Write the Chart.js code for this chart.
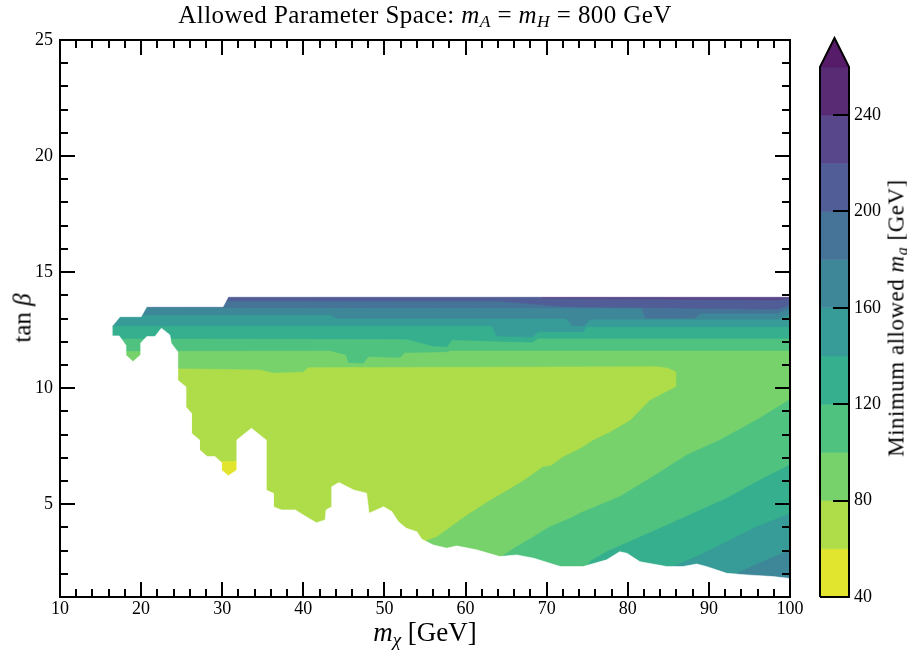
<!DOCTYPE html>
<html>
<head>
<meta charset="utf-8">
<script src="https://cdn.jsdelivr.net/npm/chart.js@4.4.0/dist/chart.umd.min.js"></script>
<style>
  html, body { margin: 0; padding: 0; background: #fff; }
  #fig { position: relative; width: 907px; height: 650px; font-family: 'Liberation Serif', serif; color: #000; }
  #mainBox { position: absolute; left: 0; top: 0; width: 907px; height: 650px; }
  #barBox { position: absolute; left: 800px; top: 0; width: 107px; height: 650px; }
  .lbl { position: absolute; white-space: nowrap; line-height: 1; }
  .lbl sub { font-size: 70%; vertical-align: -0.25em; line-height: 0; }
  #title { left: 425px; top: 2px; transform: translateX(-50%); font-size: 25px; letter-spacing: 0.4px; }
  #xlabel { left: 425px; top: 619px; transform: translateX(-50%); font-size: 27px; }
  #ylabel { left: 22px; top: 318px; transform: translate(-50%, -50%) rotate(-90deg); font-size: 25px; }
  #clabel { left: 896px; top: 318px; transform: translate(-50%, -50%) rotate(-90deg); font-size: 23px; letter-spacing: 0.5px; }
</style>
</head>
<body>
<div id="fig">
  <div id="mainBox"><canvas id="mainChart"></canvas></div>
  <div id="barBox"><canvas id="barChart"></canvas></div>
  <div class="lbl" id="title">Allowed Parameter Space: <i>m</i><sub><i>A</i></sub> = <i>m</i><sub><i>H</i></sub> = 800 GeV</div>
  <div class="lbl" id="xlabel"><i>m</i><sub><i>χ</i></sub> [GeV]</div>
  <div class="lbl" id="ylabel">tan <i>β</i></div>
  <div class="lbl" id="clabel">Minimum allowed <i>m</i><sub><i>a</i></sub> [GeV]</div>
</div>
<script>
// colour levels of m_a (GeV) and their fills
const levels = [40, 60, 80, 100, 120, 140, 160, 180, 200, 220, 240, 260];
const levelColors = ['#e2e52e', '#afdd49', '#78d26c', '#4fc280', '#36af8f', '#379c98',
  '#3e8799', '#467499', '#515d96', '#58478b', '#592b74'];
const overColor = '#561b69';
const colorTicks = [40, 80, 120, 160, 200, 240];

// outline of the allowed region (m_chi, tan beta)
const topEdge = [[16.4, 12.65], [17.4, 13.08], [20.0, 13.08], [20.7, 13.51], [30.1, 13.51],
  [30.75, 13.94], [100, 13.94]];
const bottomEdge = [[16.4, 12.25], [17.3, 12.25], [18.1, 11.86], [18.1, 11.43], [19.0, 11.14],
  [19.95, 11.43], [19.95, 11.94], [20.7, 12.22], [21.7, 12.22], [22.5, 12.58], [23.55, 12.29],
  [23.7, 11.94], [24.5, 11.57], [24.5, 10.35], [25.5, 10.06], [25.5, 9.2], [26.2, 8.92],
  [26.2, 8.06], [27.2, 7.77], [27.2, 7.34], [28.15, 7.05], [29.1, 7.05], [29.9, 6.79],
  [29.9, 6.47], [30.75, 6.22], [31.8, 6.47], [31.8, 7.77], [33.6, 8.27], [35.4, 7.77],
  [35.4, 5.61], [36.3, 5.47], [36.3, 4.89], [37.3, 4.75], [39.0, 4.75], [40.0, 4.53],
  [41.6, 4.2], [42.7, 4.32], [42.8, 4.75], [43.5, 4.89], [43.5, 5.75], [44.4, 5.93],
  [46.2, 5.61], [47.8, 5.47], [48.1, 4.61], [49.0, 4.75], [49.9, 4.89], [50.9, 4.68],
  [51.7, 4.25], [52.7, 3.96], [54.0, 3.81], [54.6, 3.49], [56.0, 3.24], [57.7, 3.1],
  [58.9, 3.2], [61.4, 3.03], [64.2, 2.74], [66.3, 2.81], [68.4, 2.67], [70.4, 2.45],
  [71.7, 2.31], [74.5, 2.31], [77.4, 2.6], [79.0, 2.95], [79.9, 2.88], [81.5, 2.52],
  [84.8, 2.31], [86.8, 2.31], [88.5, 2.42], [89.7, 2.31], [92.2, 2.02], [94.7, 1.95],
  [97.9, 1.88], [100, 1.8]];

// region below 80 GeV and the small patch below 60 GeV
const below80 = [[10, 10.9], [34.7, 10.78], [36.3, 10.64], [40.0, 10.68], [40.6, 10.88],
  [83.6, 10.92], [85.0, 10.85], [85.9, 10.7], [85.9, 10.07], [82.7, 9.49], [80.3, 8.63],
  [77.8, 8.12], [75.7, 7.77], [74.1, 7.41], [72.0, 7.05], [70.6, 6.69], [69.5, 6.62],
  [67.5, 6.12], [65.5, 5.69], [63.0, 5.18], [60.1, 4.53], [58.1, 4.03], [56.4, 3.6],
  [55.2, 3.46], [54.5, 2.0], [54.5, 1], [10, 1]];
const below60 = [[29.75, 6.83], [31.95, 6.85], [31.95, 5.8], [29.75, 5.8]];

// upper strip: lower edge of the region above each level
const strip100 = [[10, 11.6], [43.3, 11.62], [45.3, 11.43], [45.55, 11.1], [47.4, 11.07],
  [48.0, 11.36], [51.9, 11.32], [52.5, 11.53], [57.7, 11.57], [58.1, 11.62], [100, 11.62]];
const strip120 = [[10, 12.15], [52.7, 12.12], [56.0, 11.82], [57.7, 11.79], [58.3, 12.08],
  [63.4, 12.03], [68.2, 11.98], [69.0, 12.15], [100, 12.15]];
const strip140 = [[10, 12.69], [63.3, 12.69], [63.8, 12.25], [68.2, 12.2], [69.0, 12.43],
  [74.5, 12.43], [74.9, 12.65], [100, 12.65]];
const strip160 = [[10, 13.16], [43.3, 13.16], [44.1, 13.01], [72.4, 13.01], [73.2, 12.68],
  [74.6, 12.68], [75.3, 12.97], [98.5, 12.97], [100, 13.2]];
const strip180 = [[10, 13.49], [81.7, 13.45], [82.2, 13.02], [88.3, 13.02], [89.0, 13.23],
  [98.5, 13.23], [100, 13.45]];
const strip200 = [[10, 13.76], [64, 13.76], [72, 13.52], [98.5, 13.4], [100, 13.6]];
const strip220 = [[10, 14.3], [68, 14.3], [69.5, 13.88], [98.5, 13.8], [100, 13.88]];

// lower right wedges: upper edge of the region above each level
const wedge100 = [[63.5, 2.0], [64.7, 2.81], [66.3, 3.17], [68.4, 3.6], [70.4, 4.03],
  [72.9, 4.39], [74.1, 4.61], [79.0, 5.32], [83.1, 6.19], [87.3, 7.12], [91.4, 7.77],
  [95.9, 8.63], [99.6, 9.42], [100, 9.5]];
const wedge120 = [[74.5, 1.5], [75.3, 2.52], [77.4, 2.95], [80.7, 3.46], [84.4, 4.03],
  [88.1, 4.61], [92.2, 5.25], [96.3, 6.04], [99.6, 6.62], [100, 6.7]];
const wedge140 = [[84.8, 1.5], [85.6, 2.31], [88.5, 2.74], [91.8, 3.31], [95.9, 4.03],
  [99.6, 4.53], [100, 4.6]];
const wedge160 = [[93.2, 1.5], [93.6, 2.05], [96.5, 2.5], [99.6, 2.95], [100, 3.0]];

const serif = "'Liberation Serif', serif";

function toPts(arr) { return arr.map(p => ({ x: p[0], y: p[1] })); }

function area(points, color) {
  return {
    data: toPts(points),
    backgroundColor: color,
    borderColor: color,
    borderWidth: 0.6,
    pointRadius: 0,
    tension: 0,
    fill: 'shape'
  };
}

const colorOf = lv => levelColors[levels.indexOf(lv)];

const allowed = topEdge.concat(bottomEdge.slice().reverse());
const mask = [[10, 25], [100, 25]].concat(topEdge.slice().reverse(), bottomEdge, [[100, 1], [10, 1]]);
const stripTop = [[100, 15], [10, 15]];
const wedgeBase = [[100, 1], [60, 1]];

const mainSets = [
  area(allowed, colorOf(80)),
  area(below80, colorOf(60)),
  area(below60, colorOf(40)),
  area(strip100.concat(stripTop), colorOf(100)),
  area(strip120.concat(stripTop), colorOf(120)),
  area(strip140.concat(stripTop), colorOf(140)),
  area(strip160.concat(stripTop), colorOf(160)),
  area(strip180.concat(stripTop), colorOf(180)),
  area(strip200.concat(stripTop), colorOf(200)),
  area(strip220.concat(stripTop), colorOf(220)),
  area(wedge100.concat(wedgeBase), colorOf(100)),
  area(wedge120.concat(wedgeBase), colorOf(120)),
  area(wedge140.concat(wedgeBase), colorOf(140)),
  area(wedge160.concat(wedgeBase), colorOf(160)),
  area(mask, '#ffffff')
];
// later datasets are painted on top
mainSets.forEach((d, i) => { d.order = -i; });

// inward ticks on the chosen sides, plus the frame
function innerTicks(spec) {
  return {
    id: 'innerTicks',
    afterDatasetsDraw(chart) {
      const { ctx, chartArea: a } = chart;
      ctx.save();
      ctx.strokeStyle = '#000';
      ctx.lineWidth = 2;
      if (spec.x) {
        const scale = chart.scales.x;
        scale.ticks.forEach(tk => {
          const px = Math.round(scale.getPixelForValue(tk.value));
          const len = tk.value % spec.x.major === 0 ? 15 : 8;
          ctx.beginPath();
          ctx.moveTo(px, a.bottom); ctx.lineTo(px, a.bottom - len);
          ctx.moveTo(px, a.top); ctx.lineTo(px, a.top + len);
          ctx.stroke();
        });
      }
      if (spec.y) {
        const scale = chart.scales.y;
        const vals = spec.y.values || scale.ticks.map(tk => tk.value);
        vals.forEach(v => {
          const py = Math.round(scale.getPixelForValue(v));
          const len = spec.y.major && v % spec.y.major !== 0 ? 8 : (spec.y.len || 15);
          ctx.beginPath();
          if (spec.y.left) { ctx.moveTo(a.left, py); ctx.lineTo(a.left + len, py); }
          if (spec.y.right) { ctx.moveTo(a.right, py); ctx.lineTo(a.right - len, py); }
          ctx.stroke();
        });
      }
      if (spec.frame) {
        ctx.strokeRect(a.left, a.top, a.right - a.left, a.bottom - a.top);
      }
      ctx.restore();
    }
  };
}

const tickFont = { family: serif, size: 18 };

new Chart(document.getElementById('mainChart'), {
  type: 'line',
  data: { datasets: mainSets },
  plugins: [innerTicks({ x: { major: 10 }, y: { major: 5, left: true, right: true }, frame: true })],
  options: {
    responsive: true,
    maintainAspectRatio: false,
    animation: false,
    layout: { padding: { top: 40, right: 117, left: 0, bottom: 0 } },
    plugins: { legend: { display: false }, tooltip: { enabled: false } },
    scales: {
      x: {
        type: 'linear', min: 10, max: 100,
        grid: { display: false, drawTicks: false },
        border: { display: false },
        ticks: {
          stepSize: 2, autoSkip: false, maxRotation: 0, padding: 1, color: '#000', font: tickFont,
          callback: v => (v % 10 === 0 ? v : '')
        },
        afterFit: s => { s.height = 53; }
      },
      y: {
        type: 'linear', min: 1, max: 25,
        grid: { display: false, drawTicks: false },
        border: { display: false },
        ticks: {
          stepSize: 1, autoSkip: false, padding: 7, color: '#000', font: tickFont,
          callback: v => (v % 5 === 0 ? v : '')
        },
        afterFit: s => { s.width = 60; }
      }
    }
  }
});

// colour bar: one box per band plus the extension triangle
const barSets = [];
levelColors.forEach((c, i) => {
  barSets.push(area([[0, levels[i]], [1, levels[i]], [1, levels[i + 1]], [0, levels[i + 1]]], c));
});
barSets.push(area([[0, 260], [1, 260], [0.5, 272]], overColor));
barSets.push({
  data: toPts([[0, 40], [0, 260], [0.5, 272], [1, 260], [1, 40], [0, 40]]),
  borderColor: '#000', borderWidth: 2, pointRadius: 0, fill: false, tension: 0, clip: false
});
barSets.forEach((d, i) => { d.order = -i; });

new Chart(document.getElementById('barChart'), {
  type: 'line',
  data: { datasets: barSets },
  plugins: [innerTicks({ y: { values: colorTicks, right: true, len: 16 } })],
  options: {
    responsive: true,
    maintainAspectRatio: false,
    animation: false,
    layout: { padding: { top: 38, right: 0, left: 20, bottom: 53 } },
    plugins: { legend: { display: false }, tooltip: { enabled: false } },
    scales: {
      x: { type: 'linear', min: 0, max: 1, display: false },
      y: {
        type: 'linear', position: 'right', min: 40, max: 272,
        grid: { display: false, drawTicks: false },
        border: { display: false },
        afterBuildTicks: s => { s.ticks = colorTicks.map(v => ({ value: v })); },
        ticks: { padding: 5, color: '#000', font: tickFont },
        afterFit: s => { s.width = 58; }
      }
    }
  }
});
</script>
</body>
</html>
